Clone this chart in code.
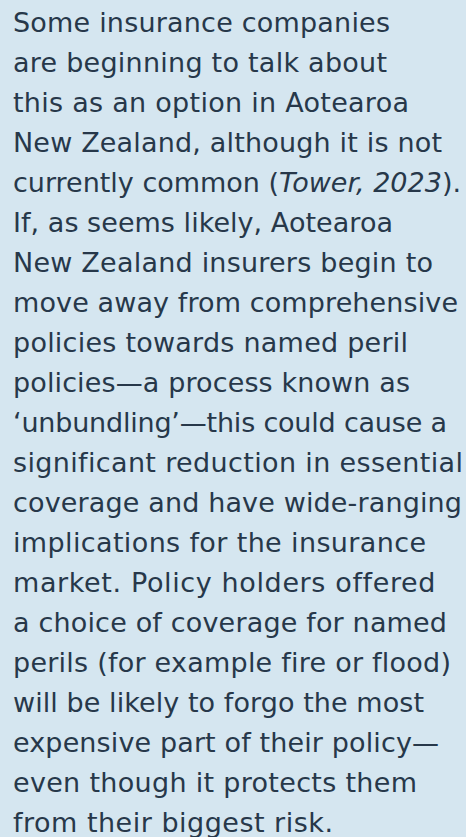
<!DOCTYPE html>
<html><head><meta charset="utf-8">
<script src="https://cdn.jsdelivr.net/npm/chart.js@4"></script>
<style>
html,body{margin:0;padding:0;width:466px;height:837px;overflow:hidden;background:#d5e6f0;}
#t{position:absolute;left:13px;top:3px;font-family:"DejaVu Sans",sans-serif;font-size:27px;line-height:40px;color:#27384a;white-space:pre;}
#t span.l{display:block;height:40px;}
</style></head><body>
<div id="t"></div>
<script>
const lines = [
"Some insurance companies",
"are beginning to talk about",
"this as an option in Aotearoa",
"New Zealand, although it is not",
"currently common (<i>Tower, 2023</i>).",
"If, as seems likely, Aotearoa",
"New Zealand insurers begin to",
"move away from comprehensive",
"policies towards named peril",
"policies\u2014a process known as",
"\u2018unbundling\u2019\u2014this could cause a",
"significant reduction in essential",
"coverage and have wide-ranging",
"implications for the insurance",
"market. Policy holders offered",
"a choice of coverage for named",
"perils (for example fire or flood)",
"will be likely to forgo the most",
"expensive part of their policy\u2014",
"even though it protects them",
"from their biggest risk."
];
// right edge of each line (px)
const lineEnds = [390,387,409,442,461,393,433,458,408,410,447,463,462,426,435,447,451,424,439,417,333];
const left = 13;
const t = document.getElementById('t');
lines.forEach((l, i) => {
  const s = document.createElement('span');
  s.className = 'l';
  const inner = document.createElement('span');
  inner.innerHTML = l;
  s.appendChild(inner);
  t.appendChild(s);
  const w = inner.getBoundingClientRect().width;
  const n = inner.textContent.length;
  const ls = (lineEnds[i] - left - w) / Math.max(1, n - 1);
  s.style.letterSpacing = ls + 'px';
});
</script>
</body></html>
